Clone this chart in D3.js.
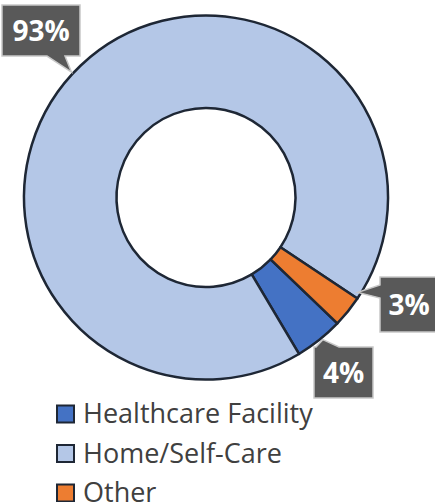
<!DOCTYPE html>
<html>
<head>
<meta charset="utf-8">
<script src="https://cdn.jsdelivr.net/npm/d3@7"></script>
<style>
  html, body { margin: 0; padding: 0; background: #fff; }
  svg { display: block; font-family: "Open Sans", "Noto Sans", sans-serif; }
</style>
</head>
<body>
<div id="chart"></div>
<script>
// data
const categories = ["Healthcare Facility", "Home/Self-Care", "Other"];
const shares = [4.3, 92.9, 2.8];
const shareLabels = ["4%", "93%", "3%"];
const colors = ["#4472C4", "#B4C7E7", "#ED7D31"];

const width = 435, height = 502;
const cx = 206, cy = 197.5;
const outerR = 182, innerR = 89.5;
const startDeg = 133.8;

const svg = d3.select("#chart")
    .append("svg")
    .attr("width", width)
    .attr("height", height);

const pie = d3.pie()
    .sort(null)
    .value(d => d)
    .startAngle(startDeg * Math.PI / 180)
    .endAngle((startDeg + 360) * Math.PI / 180);

const arc = d3.arc()
    .innerRadius(innerR)
    .outerRadius(outerR);

const arcs = pie(shares);

svg.append("g")
    .attr("transform", `translate(${cx},${cy})`)
    .selectAll("path")
    .data(arcs)
    .enter().append("path")
    .attr("d", arc)
    .attr("fill", (d, i) => colors[i])
    .attr("stroke", "#1E2735")
    .attr("stroke-width", 2.5)
    .attr("stroke-linejoin", "round");

/* callouts: box + pointer, tip sits on the slice edge */
const callouts = [
    // healthcare
    {box: [314, 347, 59, 51], tipAngle: 140.6, tipR: 184, base: "top", b0: 316, b1: 339},
    // home
    {box: [2, 5, 78, 51], tipAngle: 313, tipR: 184, base: "bottom", b0: 47, b1: 65},
    // other
    {box: [380, 277, 58, 55], tipAngle: 122, tipR: 179, base: "left", b0: 285, b1: 298}
];

function calloutPath(c, tip) {
    const [x, y, w, h] = c.box;
    const x2 = x + w, y2 = y + h;
    const p = d3.path();
    if (c.base === "top") {
        p.moveTo(x, y); p.lineTo(c.b0, y); p.lineTo(tip[0], tip[1]); p.lineTo(c.b1, y);
        p.lineTo(x2, y); p.lineTo(x2, y2); p.lineTo(x, y2); p.closePath();
    } else if (c.base === "bottom") {
        p.moveTo(x, y); p.lineTo(x2, y); p.lineTo(x2, y2); p.lineTo(c.b1, y2);
        p.lineTo(tip[0], tip[1]); p.lineTo(c.b0, y2); p.lineTo(x, y2); p.closePath();
    } else {
        p.moveTo(x, y); p.lineTo(x2, y); p.lineTo(x2, y2); p.lineTo(x, y2);
        p.lineTo(x, c.b1); p.lineTo(tip[0], tip[1]); p.lineTo(x, c.b0); p.closePath();
    }
    return p.toString();
}

const labels = svg.append("g").attr("class", "labels");
callouts.forEach((c, i) => {
    const a = c.tipAngle * Math.PI / 180;
    const tip = [cx + c.tipR * Math.sin(a), cy - c.tipR * Math.cos(a)];
    labels.append("path")
        .attr("d", calloutPath(c, tip))
        .attr("fill", "#595959")
        .attr("stroke", "#C8C8C8")
        .attr("stroke-width", 1.5)
        .attr("stroke-linejoin", "miter");
    labels.append("text")
        .attr("x", c.box[0] + c.box[2] / 2)
        .attr("y", c.box[1] + c.box[3] / 2)
        .attr("dy", "0.36em")
        .attr("text-anchor", "middle")
        .attr("font-size", 28)
        .attr("font-weight", "bold")
        .attr("fill", "#fff")
        .text(shareLabels[i]);
});

/* legend */
const legendY = d3.scalePoint()
    .domain(categories)
    .range([413.5, 492.5]);

const legend = svg.append("g").attr("class", "legend");
const item = legend.selectAll("g")
    .data(categories)
    .enter().append("g")
    .attr("transform", d => `translate(0,${legendY(d)})`);

item.append("rect")
    .attr("x", 57)
    .attr("y", -8)
    .attr("width", 17)
    .attr("height", 17)
    .attr("fill", (d, i) => colors[i])
    .attr("stroke", "#1E2735")
    .attr("stroke-width", 2);

item.append("text")
    .attr("x", 83)
    .attr("y", 0)
    .attr("dy", "0.36em")
    .attr("font-size", 27)
    .attr("fill", "#404040")
    .text(d => d);
</script>
</body>
</html>
